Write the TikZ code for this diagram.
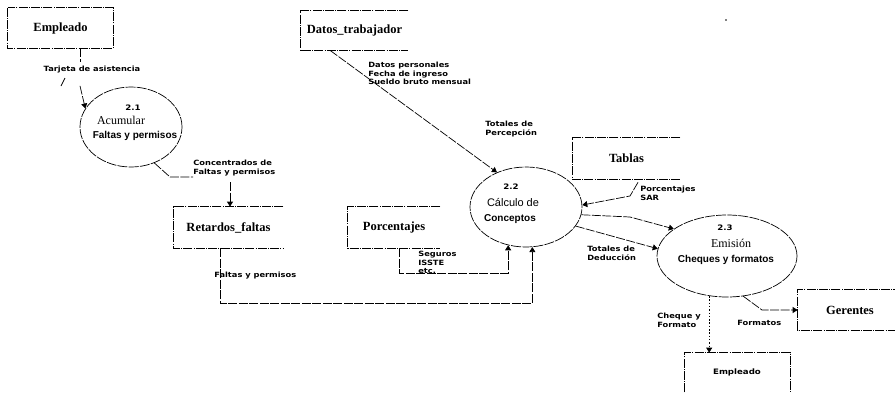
\documentclass[tikz,border=0pt]{standalone}
\usepackage{fontspec}
\setmainfont{Liberation Serif}
\newfontfamily\sansf{Liberation Sans}
\newfontfamily\labf{DejaVu Sans}[FakeStretch=1.15]
\usetikzlibrary{arrows.meta,shapes.geometric}

\begin{document}
\begin{tikzpicture}[x=1pt,y=-1pt,
  line width=0.7pt,
  boxline/.style={dash pattern=on 9pt off 1.2pt on 1pt off 1.2pt},
  flow/.style={dash pattern=on 9pt off 1.5pt},
  dots/.style={dash pattern=on 1.5pt off 1.8pt},
  tip/.style={-{Triangle[length=5pt,width=6pt]}},
  store/.style={inner sep=0pt, font=\fontsize{12.5}{14}\selectfont\bfseries},
  proc/.style={draw, ellipse, inner sep=0pt, dash pattern=on 10pt off 1.2pt},
  num/.style={font=\labf\bfseries\fontsize{7.5}{8}\selectfont, inner sep=0pt},
  ttl/.style={font=\fontsize{12}{13}\selectfont, inner sep=0pt},
  sub/.style={font=\sansf\bfseries\fontsize{10}{11}\selectfont, inner sep=0pt},
  lab/.style={font=\labf\bfseries\fontsize{7.2}{8.5}\selectfont, inner sep=0pt, align=left},
]
\useasboundingbox (0,0) rectangle (895,394);

% external entities and data stores
\node[store, minimum width=105pt, minimum height=40pt] (emp1) at (60.5,28) {Empleado};
\draw[boxline] (emp1.north west) rectangle (emp1.south east);

\node[store, minimum width=107pt, minimum height=39pt] (datos) at (354.5,30.5) {Datos\_trabajador};
\draw[boxline] (datos.north east) -- (datos.north west) -- (datos.south west) -- (datos.south east);

\node[store, minimum width=109pt, minimum height=41pt] (ret) at (228.5,227.5) {Retardos\_faltas};
\draw[boxline] (ret.north east) -- (ret.north west) -- (ret.south west) -- (ret.south east);

\node[store, minimum width=92pt, minimum height=41pt] (porc) at (394,227.5) {Porcentajes};
\draw[boxline] (porc.north east) -- (porc.north west) -- (porc.south west) -- (porc.south east);

\node[store, minimum width=107pt, minimum height=41pt] (tablas) at (626.5,158.5) {Tablas};
\draw[boxline] (tablas.north east) -- (tablas.north west) -- (tablas.south west) -- (tablas.south east);

\node[store, minimum width=104pt, minimum height=40pt] (ger) at (850,310) {Gerentes};
\draw[boxline] (ger.north east) -- (ger.north west) -- (ger.south west) -- (ger.south east);

\node[inner sep=0pt, minimum width=105pt, minimum height=39pt] (emp2) at (737.5,372.5) {};
\draw[boxline] (emp2.south west) -- (emp2.north west) -- (emp2.north east) -- (emp2.south east);
\node[font=\labf\bfseries\fontsize{7.5}{8}\selectfont, inner sep=0pt] (emp2t) at (737,372) {Empleado};

% processes
\node[proc, minimum width=102pt, minimum height=80pt] (e21) at (131,127) {};
\node[num] (n21) at (133,108) {2.1};
\node[ttl] (t21) at (121,120) {Acumular};
\node[sub] (s21) at (135,136) {Faltas y permisos};

\node[proc, minimum width=112pt, minimum height=80pt] (e22) at (526,207) {};
\node[num] (n22) at (511,187) {2.2};
\node[ttl, font=\sansf\fontsize{11}{12}\selectfont] (t22) at (513,203) {Cálculo de};
\node[sub] (s22) at (510,219) {Conceptos};

\node[proc, minimum width=140pt, minimum height=82pt] (e23) at (727,256) {};
\node[num] (n23) at (725,228) {2.3};
\node[ttl] (t23) at (731,243) {Emisión};
\node[sub] (s23) at (726,260) {Cheques y formatos};

% flow labels
\node[lab] (ltarj) at (92,70) {Tarjeta de asistencia};
\node[lab, anchor=north west] (lconc) at (193,160) {Concentrados de\\Faltas y permisos};
\node[lab, anchor=west] (lfal) at (214,276) {Faltas y permisos};
\node[lab, anchor=north west] (lseg) at (418,251) {Seguros\\ISSTE\\etc.};
\node[lab, anchor=north west] (ldat) at (368,62) {Datos personales\\Fecha de ingreso\\Sueldo bruto mensual};
\node[lab, anchor=north west] (lper) at (485,121) {Totales de\\Percepción};
\node[lab, anchor=north west] (lsar) at (640,186) {Porcentajes\\SAR};
\node[lab, anchor=north west] (lded) at (587,246) {Totales de\\Deducción};
\node[lab, anchor=north west] (lche) at (657,313) {Cheque y\\Formato};
\node[lab, anchor=west] (lfor) at (737,323) {Formatos};

% data flows
\draw[flow] (emp1.south -| 80,0) -- (80,62);
\draw (61,86) -- (65,78);
\draw[flow, tip] (ltarj.south -| 80,0) ++(0,12) -- (e21.158);

\draw[flow] (e21.-57) -- (170,177) -- (193,177);
\draw[flow, tip] (lconc.south -| 230,0) ++(0,6) -- (ret.north -| 230,0);

\draw[flow, tip] (ret.south -| 220,0) |- (e22.-81 |- 0,303) -- (e22.-81);
\draw[flow, tip] (porc.south -| 399,0) |- (e22.-115 |- 0,273) -- (e22.-115);

\draw[flow, tip] (datos.south -| 330,0) -- (e22.130);
\draw[flow, tip] (tablas.south -| 638,0) ++(0,3) -- (630,196) -- (e22.2);

\draw[flow, tip] (e22.-8) -- (630,217) -- (e23.153);
\draw[flow, tip] (e22.-21) -- (e23.174);

\draw[flow, tip] (e23.-68) -- (762,310) -- (ger.west);
\draw[dots, tip] (e23.-114) -- (emp2.north -| e23.-114);

% speck
\fill (726,20) circle (0.9pt);
\end{tikzpicture}
\end{document}
